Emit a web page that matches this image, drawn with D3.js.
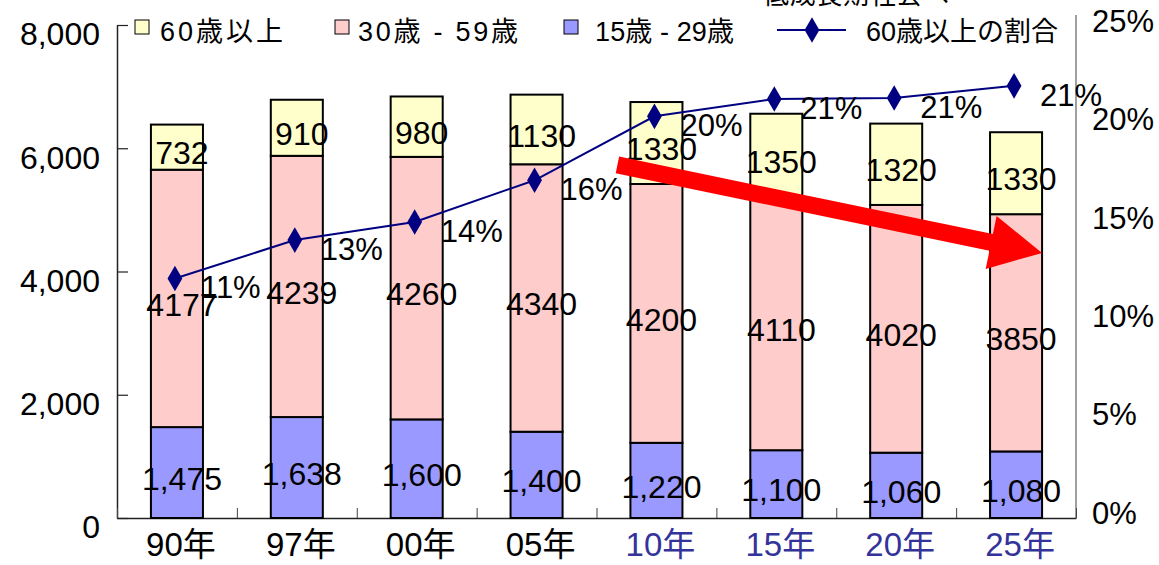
<!DOCTYPE html>
<html>
<head>
<meta charset="utf-8">
<script src="https://cdn.jsdelivr.net/npm/d3@7/dist/d3.min.js"></script>
<style>
  html, body { margin: 0; padding: 0; background: #fff; }
  svg { display: block; font-family: "Liberation Sans", Arial, "Noto Sans CJK JP", sans-serif; }
</style>
</head>
<body>
<svg id="chart" width="1159" height="565"></svg>
<script>
// Population by age group (thousands) and the share of people aged 60+
const categories = ["90年", "97年", "00年", "05年", "10年", "15年", "20年", "25年"];
const age15to29 = [1475, 1638, 1600, 1400, 1220, 1100, 1060, 1080];
const age30to59 = [4177, 4239, 4260, 4340, 4200, 4110, 4020, 3850];
const age60plus = [732, 910, 980, 1130, 1330, 1350, 1320, 1330];
const share60plus = [11.46, 13.41, 14.33, 16.45, 19.70, 20.58, 20.63, 21.25];
const leftTicks = [0, 2000, 4000, 6000, 8000];
const rightTicks = [0, 5, 10, 15, 20, 25];
const projectedFrom = 4; // index of the first projected year

const seriesNames = ["15歳 - 29歳", "30歳 - 59歳", "60歳以上"];
const seriesColors = ["#9999ff", "#ffcccc", "#ffffcc"];
const lineName = "60歳以上の割合";
const headline = "低成長期社会へ";

const svg = d3.select("#chart");
const plotLeft = 117, plotRight = 1076, plotBottom = 518, plotTop = 25;

const x = d3.scaleBand().domain(categories).range([plotLeft, plotRight])
  .paddingInner(0.566).paddingOuter(0.283);
const yL = d3.scaleLinear().domain([0, 8000]).range([plotBottom, plotTop]);
const yR = d3.scaleLinear().domain([0, 25]).range([504, 12]);

// stacked data
const rows = categories.map((c, i) => ({ cat: c, a: age15to29[i], b: age30to59[i], c60: age60plus[i] }));
const stack = d3.stack().keys(["a", "b", "c60"])(rows);

// right-hand frame line
svg.append("line")
  .attr("x1", plotRight).attr("x2", plotRight)
  .attr("y1", 15).attr("y2", plotBottom)
  .attr("stroke", "#808080").attr("stroke-width", 1.5);

// left axis
const gL = svg.append("g").attr("transform", `translate(${plotLeft},0)`)
  .call(d3.axisLeft(yL).tickValues(leftTicks).tickSizeInner(-11).tickSizeOuter(0)
    .tickPadding(17).tickFormat(d3.format(",")));
gL.select(".domain").attr("stroke", "#222").attr("stroke-width", 1.5);
gL.selectAll(".tick line").attr("stroke", "#222").attr("stroke-width", 1.2);
gL.selectAll(".tick text").attr("font-size", 32).attr("fill", "#000")
  .attr("font-family", "Liberation Sans, Arial, sans-serif").attr("dy", "0.65em")
  .attr("transform", "translate(0,-1)");

// bottom axis: boundary ticks between categories
const edges = d3.scaleLinear().domain([0, categories.length]).range([plotLeft, plotRight]);
const gB = svg.append("g").attr("transform", `translate(0,${plotBottom})`)
  .call(d3.axisBottom(edges).tickValues(d3.range(0, categories.length + 1))
    .tickSizeInner(-10).tickSizeOuter(0).tickFormat(""));
gB.select(".domain").attr("stroke", "#222").attr("stroke-width", 1.5);
gB.selectAll(".tick line").attr("stroke", "#444").attr("stroke-width", 1);

// category labels
svg.append("g").selectAll("text").data(categories).join("text")
  .attr("x", d => x(d) + x.bandwidth() / 2 + 4)
  .attr("y", 556)
  .attr("text-anchor", "middle")
  .attr("font-size", 33)
  .attr("fill", (d, i) => i >= projectedFrom ? "#333399" : "#000")
  .text(d => d);

// right axis labels
svg.append("g").selectAll("text").data(rightTicks).join("text")
  .attr("x", plotRight + 16)
  .attr("y", d => yR(d) + 9)
  .attr("dy", "0.35em")
  .attr("font-size", 31)
  .text(d => d + "%");

// stacked bars
const layers = svg.append("g").selectAll("g").data(stack).join("g")
  .attr("fill", (d, i) => seriesColors[i]);
layers.selectAll("rect").data(d => d).join("rect")
  .attr("x", d => x(d.data.cat))
  .attr("width", x.bandwidth())
  .attr("y", d => yL(d[1]))
  .attr("height", d => yL(d[0]) - yL(d[1]))
  .attr("stroke", "#000").attr("stroke-width", 2);

// segment value labels
const fmtComma = d3.format(",");
stack.forEach((layer, li) => {
  svg.append("g").selectAll("text").data(layer).join("text")
    .attr("x", d => x(d.data.cat) + x.bandwidth() / 2 + 5)
    .attr("y", d => yL((d[0] + d[1]) / 2) + 6)
    .attr("dy", "0.35em")
    .attr("text-anchor", "middle")
    .attr("font-size", 32)
    .text(d => li === 0 ? fmtComma(d[1] - d[0]) : (d[1] - d[0]));
});

// red trend arrow (2010 → 2025)
{
  const x0 = x("10年") - 13, y0 = yL(5730);
  const x1 = x("25年") + x.bandwidth(), y1 = yL(4300);
  const dx = x1 - x0, dy = y1 - y0, len = Math.hypot(dx, dy);
  const ux = dx / len, uy = dy / len, px = -uy, py = ux;
  const shaft = 8.5, head = 27, headLen = 52;
  const bx = x1 - ux * headLen, by = y1 - uy * headLen;
  const outline = [
    [x0 + px * shaft, y0 + py * shaft],
    [bx + px * shaft, by + py * shaft],
    [bx + px * head, by + py * head],
    [x1, y1],
    [bx - px * head, by - py * head],
    [bx - px * shaft, by - py * shaft],
    [x0 - px * shaft, y0 - py * shaft]
  ];
  svg.append("polygon").attr("points", outline.map(p => p.join(",")).join(" "))
    .attr("fill", "#ff0000");
}

// share of 60+ line
const linePts = categories.map((c, i) => [x(c) + x.bandwidth() / 2 - 2, yR(share60plus[i])]);
svg.append("path")
  .attr("d", d3.line()(linePts))
  .attr("fill", "none").attr("stroke", "#000080").attr("stroke-width", 2);
const diamond = d3.symbol().type(d3.symbolDiamond).size(190);
svg.append("g").selectAll("path").data(linePts).join("path")
  .attr("transform", d => `translate(${d[0]},${d[1]})`)
  .attr("d", diamond).attr("fill", "#000080");
svg.append("g").selectAll("text").data(share60plus).join("text")
  .attr("x", (d, i) => linePts[i][0] + 26)
  .attr("y", (d, i) => linePts[i][1] + 9)
  .attr("dy", "0.35em")
  .attr("font-size", 31)
  .text(d => Math.round(d) + "%");

// legend
const legend = svg.append("g").attr("font-size", 27)
  .attr("font-family", "Liberation Sans, Arial, 'Noto Sans CJK JP', sans-serif");
const legendItems = [
  { name: seriesNames[2], color: seriesColors[2], bx: 135, tx: 160, w: 123 },
  { name: seriesNames[1], color: seriesColors[1], bx: 335, tx: 358, w: 160 },
  { name: seriesNames[0], color: seriesColors[0], bx: 564, tx: 595, w: 139 }
];
legendItems.forEach(it => {
  legend.append("rect").attr("x", it.bx).attr("y", 20).attr("width", 14).attr("height", 14)
    .attr("fill", it.color).attr("stroke", "#000").attr("stroke-width", 1);
  legend.append("text").attr("x", it.tx).attr("y", 32).attr("dy", "0.35em")
    .attr("textLength", it.w).attr("lengthAdjust", "spacing").text(it.name);
});
legend.append("line").attr("x1", 777).attr("x2", 846).attr("y1", 30).attr("y2", 30)
  .attr("stroke", "#000080").attr("stroke-width", 2);
legend.append("path").attr("transform", "translate(812,30)").attr("d", diamond).attr("fill", "#000080");
legend.append("text").attr("x", 866).attr("y", 32).attr("dy", "0.35em")
  .attr("textLength", 192).attr("lengthAdjust", "spacing").text(lineName);

// heading above the plot (runs off the top edge)
svg.append("text").attr("x", 763).attr("y", 4).attr("font-size", 26)
  .attr("font-family", "'Noto Sans CJK JP', sans-serif")
  .attr("textLength", 186).attr("lengthAdjust", "spacing")
  .text(headline);
</script>
</body>
</html>
